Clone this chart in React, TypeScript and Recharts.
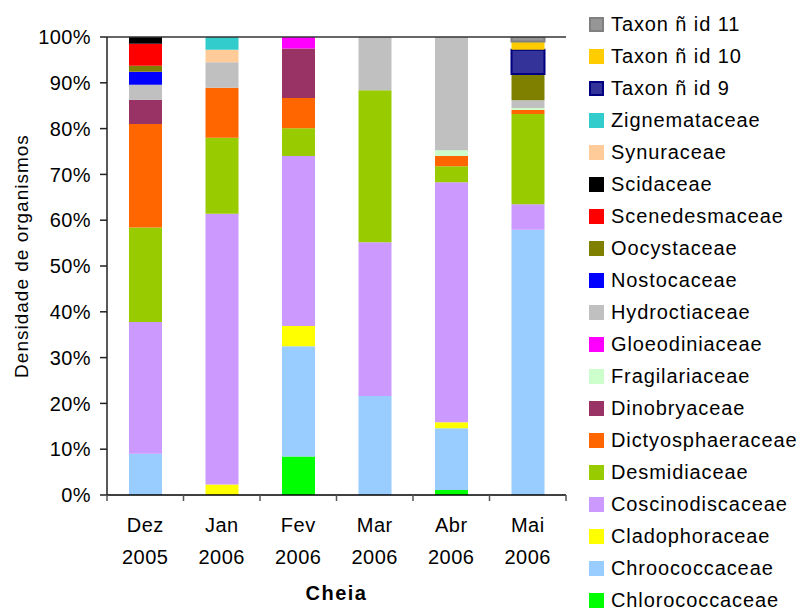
import { BarChart, Bar, XAxis, YAxis, ReferenceLine, Label } from 'recharts';

const months = ['Dez', 'Jan', 'Fev', 'Mar', 'Abr', 'Mai'];
const years = ['2005', '2006', '2006', '2006', '2006', '2006'];
const yTicks = [0, 10, 20, 30, 40, 50, 60, 70, 80, 90, 100];

// percent of organisms per family, one value per month (Dez 2005 .. Mai 2006)
const chlorococcaceae = [0, 0, 8.4, 0, 1.1, 0];
const chroococcaceae = [9.0, 0, 24.1, 21.6, 13.5, 57.9];
const cladophoraceae = [0, 2.3, 4.4, 0, 1.3, 0];
const coscinodiscaceae = [28.8, 59.1, 37.1, 33.6, 52.4, 5.6];
const desmidiaceae = [20.6, 16.6, 6.1, 33.2, 3.5, 19.7];
const dictyosphaeraceae = [22.6, 10.9, 6.6, 0, 2.2, 0.9];
const dinobryaceae = [5.3, 0, 10.8, 0, 0, 0];
const fragilariaceae = [0, 0, 0, 0, 1.3, 0.4];
const gloeodiniaceae = [0, 0, 2.5, 0, 0, 0];
const hydroctiaceae = [3.3, 5.6, 0, 11.6, 24.7, 1.7];
const nostocaceae = [2.8, 0, 0, 0, 0, 0];
const oocystaceae = [1.3, 0, 0, 0, 0, 5.7];
const scenedesmaceae = [4.8, 0, 0, 0, 0, 0];
const scidaceae = [1.5, 0, 0, 0, 0, 0];
const synuraceae = [0, 2.7, 0, 0, 0, 0];
const zignemataceae = [0, 2.8, 0, 0, 0, 0];
const taxon9 = [0, 0, 0, 0, 0, 5.3];
const taxon10 = [0, 0, 0, 0, 0, 1.8];
const taxon11 = [0, 0, 0, 0, 0, 1.0];

const series = [
  { key: 'chlorococcaceae', name: 'Chlorococcaceae', color: '#00ff00', values: chlorococcaceae },
  { key: 'chroococcaceae', name: 'Chroococcaceae', color: '#99ccff', values: chroococcaceae },
  { key: 'cladophoraceae', name: 'Cladophoraceae', color: '#ffff00', values: cladophoraceae },
  { key: 'coscinodiscaceae', name: 'Coscinodiscaceae', color: '#cc99ff', values: coscinodiscaceae },
  { key: 'desmidiaceae', name: 'Desmidiaceae', color: '#99cc00', values: desmidiaceae },
  { key: 'dictyosphaeraceae', name: 'Dictyosphaeraceae', color: '#ff6600', values: dictyosphaeraceae },
  { key: 'dinobryaceae', name: 'Dinobryaceae', color: '#993366', values: dinobryaceae },
  { key: 'fragilariaceae', name: 'Fragilariaceae', color: '#ccffcc', values: fragilariaceae },
  { key: 'gloeodiniaceae', name: 'Gloeodiniaceae', color: '#ff00ff', values: gloeodiniaceae },
  { key: 'hydroctiaceae', name: 'Hydroctiaceae', color: '#c0c0c0', values: hydroctiaceae },
  { key: 'nostocaceae', name: 'Nostocaceae', color: '#0000ff', values: nostocaceae },
  { key: 'oocystaceae', name: 'Oocystaceae', color: '#808000', values: oocystaceae },
  { key: 'scenedesmaceae', name: 'Scenedesmaceae', color: '#ff0000', values: scenedesmaceae },
  { key: 'scidaceae', name: 'Scidaceae', color: '#000000', values: scidaceae },
  { key: 'synuraceae', name: 'Synuraceae', color: '#ffcc99', values: synuraceae },
  { key: 'zignemataceae', name: 'Zignemataceae', color: '#33cccc', values: zignemataceae },
  { key: 'taxon9', name: 'Taxon ñ id 9', color: '#333399', border: '#000080', values: taxon9 },
  { key: 'taxon10', name: 'Taxon ñ id 10', color: '#ffcc00', values: taxon10 },
  { key: 'taxon11', name: 'Taxon ñ id 11', color: '#969696', border: '#808080', values: taxon11 },
];

const data = months.map((m, i) => {
  const row: Record<string, string | number> = { month: m, year: years[i] };
  series.forEach((s) => {
    row[s.key] = s.values[i];
  });
  return row;
});

const FONT = '"Liberation Sans", Arial, sans-serif';
const W = 802;
const H = 610;
const M = { top: 37, right: 236, bottom: 0, left: 0 };
const Y_W = 107;
const X_H = 115;
const BAND = (W - M.right - Y_W) / months.length;

function MonthTick(props: any) {
  const { x, y, payload, index } = props;
  const half = BAND / 2;
  return (
    <g>
      <line x1={x - half} y1={y - 8} x2={x - half} y2={y - 2} stroke="#555" strokeWidth={1.5} />
      {index === months.length - 1 && (
        <line x1={x + half} y1={y - 8} x2={x + half} y2={y - 2} stroke="#555" strokeWidth={1.5} />
      )}
      <text x={x} y={y + 29} textAnchor="middle" fontFamily={FONT} fontSize={20} letterSpacing={0.5} fill="#000">
        {payload.value}
      </text>
      <text x={x} y={y + 61} textAnchor="middle" fontFamily={FONT} fontSize={20} letterSpacing={0.5} fill="#000">
        {years[index]}
      </text>
    </g>
  );
}

function Legendo() {
  const items = [...series].reverse();
  return (
    <div style={{ position: 'absolute', left: 589, top: 8, fontFamily: FONT }}>
      {items.map((s) => (
        <div key={s.key} style={{ height: 32, display: 'flex', alignItems: 'center' }}>
          <span
            style={{
              width: 15,
              height: 15,
              boxSizing: 'border-box',
              background: s.color,
              border: s.border ? `2px solid ${s.border}` : 'none',
              display: 'inline-block',
            }}
          />
          <span style={{ marginLeft: 7, fontSize: 20, letterSpacing: 0.9, color: '#000', whiteSpace: 'nowrap' }}>
            {s.name}
          </span>
        </div>
      ))}
    </div>
  );
}

export default function App() {
  return (
    <div style={{ position: 'absolute', left: 0, top: 0, width: W, height: H, background: '#fff' }}>
      <BarChart width={W} height={H} data={data} margin={M} barSize={33}>
        <XAxis
          dataKey="month"
          height={X_H}
          tickLine={false}
          axisLine={{ stroke: '#000', strokeWidth: 1.5 }}
          tick={<MonthTick />}
          interval={0}
        >
          <Label
            content={(p: any) => {
              const vb = p.viewBox;
              return (
                <text
                  x={vb.x + vb.width / 2}
                  y={vb.y + 105}
                  textAnchor="middle"
                  fontFamily={FONT}
                  fontSize={20}
                  fontWeight="bold"
                  letterSpacing={1.5}
                  fill="#000"
                >
                  Cheia
                </text>
              );
            }}
          />
        </XAxis>
        <YAxis
          width={Y_W}
          domain={[0, 100]}
          ticks={yTicks}
          tickFormatter={(v) => `${v}%`}
          tickSize={7}
          tickMargin={9}
          axisLine={{ stroke: '#222', strokeWidth: 1.5 }}
          tickLine={{ stroke: '#222', strokeWidth: 1.5 }}
          tick={{ fontFamily: FONT, fontSize: 20, letterSpacing: 0.4, fill: '#000' }}
          allowDataOverflow
        >
          <Label
            content={() => (
              <text
                x={28}
                y={256}
                transform="rotate(-90 28 256)"
                textAnchor="middle"
                fontFamily={FONT}
                fontSize={19}
                letterSpacing={1}
                fill="#000"
              >
                Densidade de organismos
              </text>
            )}
          />
        </YAxis>
        <YAxis
          yAxisId="edge"
          orientation="right"
          width={0}
          tick={false}
          tickLine={false}
          axisLine={{ stroke: '#808080', strokeWidth: 2 }}
        />
        <ReferenceLine y={100} stroke="#333" strokeWidth={1.5} />
        {series.map((s) => (
          <Bar
            key={s.key}
            dataKey={s.key}
            name={s.name}
            stackId="a"
            fill={s.color}
            stroke={s.border}
            strokeWidth={s.border ? 2 : 0}
            isAnimationActive={false}
          />
        ))}
      </BarChart>
      <Legendo />
    </div>
  );
}
